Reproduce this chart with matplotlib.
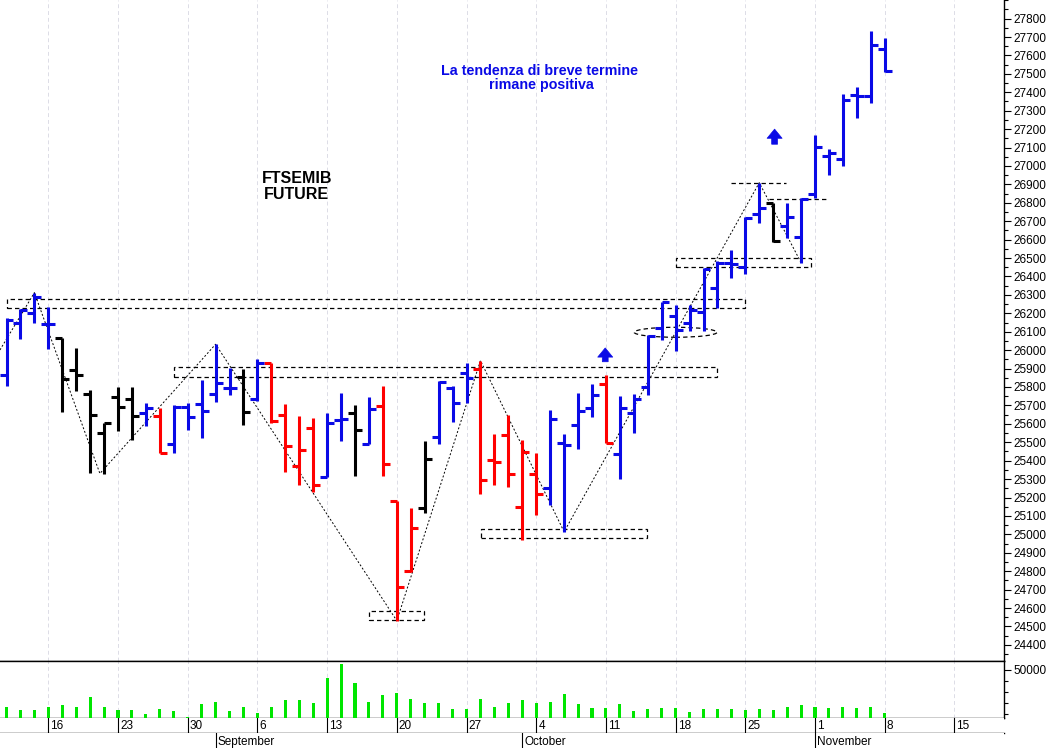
import matplotlib
matplotlib.use('Agg')
import matplotlib.pyplot as plt
from matplotlib.patches import Rectangle, Ellipse
from matplotlib.ticker import MultipleLocator, FixedLocator
import numpy as np

plt.rcParams['font.family'] = ['Liberation Sans', 'DejaVu Sans']

# ---------------- data ----------------
first_day = '2021-08-11'
dates = ['2021-08-11', '2021-08-12', '2021-08-13', '2021-08-16', '2021-08-17', '2021-08-18', '2021-08-19',
         '2021-08-20', '2021-08-23', '2021-08-24', '2021-08-25', '2021-08-26', '2021-08-27', '2021-08-30',
         '2021-08-31', '2021-09-01', '2021-09-02', '2021-09-03', '2021-09-06', '2021-09-07', '2021-09-08',
         '2021-09-09', '2021-09-10', '2021-09-13', '2021-09-14', '2021-09-15', '2021-09-16', '2021-09-17',
         '2021-09-20', '2021-09-21', '2021-09-22', '2021-09-23', '2021-09-24', '2021-09-27', '2021-09-28',
         '2021-09-29', '2021-09-30', '2021-10-01', '2021-10-04', '2021-10-05', '2021-10-06', '2021-10-07',
         '2021-10-08', '2021-10-11', '2021-10-12', '2021-10-13', '2021-10-14', '2021-10-15', '2021-10-18',
         '2021-10-19', '2021-10-20', '2021-10-21', '2021-10-22', '2021-10-25', '2021-10-26', '2021-10-27',
         '2021-10-28', '2021-10-29', '2021-11-01', '2021-11-02', '2021-11-03', '2021-11-04', '2021-11-05',
         '2021-11-08']
opens = [25865, 26149, 26200, 26142, 26064, 25892, 25762, 25552, 25744, 25733, 25657, 25643, 25490, 25690,
         25706, 25762, 25793, 25856, 25733, 25929, 25648, 25371, 25576, 25310, 25621, 25657, 25489, 25697,
         25183, 24803, 25141, 25530, 25793, 25874, 25896, 25404, 25539, 25150, 25326, 25253, 25494, 25594,
         25684, 25816, 25435, 25657, 25802, 26119, 26185, 26149, 26209, 26336, 26475, 26453, 26739, 26801,
         26674, 26613, 26848, 27054, 27036, 27385, 27380, 27633]
highs = [26175, 26222, 26312, 26236, 26064, 26010, 25784, 25603, 25802, 25802, 25715, 25684, 25702, 25715,
         25838, 26032, 25901, 25896, 25950, 25932, 25708, 25643, 25630, 25657, 25769, 25702, 25747, 25805,
         25183, 25141, 25508, 25834, 25805, 25932, 25943, 25545, 25648, 25512, 25440, 25675, 25545, 25769,
         25816, 25865, 25751, 25762, 26082, 26263, 26245, 26245, 26444, 26486, 26544, 26721, 26909, 26801,
         26797, 26824, 27168, 27090, 27391, 27430, 27734, 27693]
lows = [25806, 26059, 26149, 26005, 25666, 25780, 25331, 25328, 25563, 25512, 25588, 25443, 25443, 25567,
        25521, 25720, 25757, 25594, 25726, 25603, 25340, 25268, 25232, 25310, 25508, 25317, 25489, 25317,
        24531, 24797, 25114, 25489, 25612, 25711, 25219, 25268, 25255, 24969, 25105, 25159, 25014, 25462,
        25639, 25494, 25299, 25552, 25756, 26055, 25997, 26106, 26106, 26227, 26390, 26413, 26692, 26589,
        26607, 26475, 26824, 26951, 27000, 27259, 27340, 27512]
closes = [26164, 26218, 26287, 26142, 25842, 25865, 25648, 25603, 25690, 25642, 25684, 25443, 25693, 25639,
          25671, 25823, 25793, 25666, 25929, 25615, 25480, 25458, 25268, 25603, 25625, 25566, 25679, 25382,
          24712, 25033, 25409, 25829, 25711, 25847, 25295, 25394, 25328, 25449, 25219, 25625, 25485, 25670,
          25756, 25498, 25684, 25733, 26077, 26260, 26109, 26218, 26439, 26475, 26468, 26716, 26770, 26594,
          26725, 26819, 27105, 27072, 27358, 27380, 27657, 27517]
bar_codes = ['b', 'b', 'b', 'b', 'k', 'k', 'k', 'k', 'k', 'k', 'b', 'r', 'b', 'b', 'b', 'b', 'b', 'k', 'b', 'r',
             'r', 'r', 'r', 'b', 'b', 'k', 'b', 'r', 'r', 'r', 'k', 'b', 'b', 'b', 'r', 'r', 'r', 'r', 'r', 'b',
             'b', 'b', 'b', 'r', 'b', 'b', 'b', 'b', 'b', 'b', 'b', 'b', 'b', 'b', 'b', 'k', 'b', 'b', 'b', 'b',
             'b', 'b', 'b', 'b']
volumes = [16400, 13700, 14000, 16400, 18200, 16400, 25700, 16400, 14000, 13700, 10400, 14600, 13100, 7400,
           19100, 21200, 13100, 16400, 11300, 16400, 23000, 23000, 20000, 42500, 55400, 38300, 21400, 27500,
           29500, 23900, 20000, 20000, 14600, 14600, 23900, 16900, 20500, 23000, 20000, 21400, 28400, 19100,
           15500, 16000, 19100, 13300, 15100, 16000, 16000, 12400, 14600, 14600, 14600, 14000, 14600, 14000,
           16400, 18500, 16900, 15800, 16400, 15800, 16900, 11000]

week_ticks = ['2021-08-16', '2021-08-23', '2021-08-30', '2021-09-06', '2021-09-13', '2021-09-20', '2021-09-27',
              '2021-10-04', '2021-10-11', '2021-10-18', '2021-10-25', '2021-11-01', '2021-11-08', '2021-11-15']
week_labels = ['16', '23', '30', '6', '13', '20', '27', '4', '11', '18', '25', '1', '8', '15']
month_starts = ['2021-09-01', '2021-10-01', '2021-11-01']
month_labels = ['September', 'October', 'November']
price_ticks = list(range(24400, 27801, 100))

# annotation drawings (trading-day index, price)
zig_x = [-0.47, 2, 6.7, 15, 28, 34, 40, 54, 57]
zig_y = [26001, 26312, 25330, 26032, 24531, 25943, 25014, 26909, 26475]
boxes = [(0.06, 53.0, 26227, 26278), (12.03, 50.98, 25854, 25911), (26.0, 29.95, 24535, 24585),
         (34.06, 45.94, 24979, 25029), (48.04, 57.7, 26453, 26499)]
hlevels = [(51.98, 55.93, 26906), (54.7, 58.8, 26819)]
ellipse_c = (48.0, 26097)
arrows = [(42.95, 25937, 26012), (55.1, 27118, 27200)]

title_text = 'FTSEMIB\nFUTURE'
comment_text = 'La tendenza di breve termine\n rimane positiva'

# ---------------- styling ----------------
W, H = 1052, 748
colmap = {'b': '#0a0ae6', 'r': '#ff0000', 'k': '#000000'}
BLUE = '#0a0ae6'
GREEN = '#00e600'
GRID = '#dcdce6'

x = np.array([np.busday_count(first_day, d) for d in dates], dtype=float)
wx = np.array([np.busday_count(first_day, d) for d in week_ticks], dtype=float)
mx = np.array([np.busday_count(first_day, d) for d in month_starts], dtype=float)

px_day = 13.94
xmin = -6.5 / px_day
xmax = (1004 - 6.5) / px_day

fig = plt.figure(figsize=(W / 100, H / 100), dpi=100)

def fr(top_px, bot_px):
    return [0, (H - bot_px) / H, 1004 / W, (bot_px - top_px) / H]

ax = fig.add_axes(fr(0, 660.7))
axv = fig.add_axes(fr(660.7, 717.7))
axd = fig.add_axes(fr(717.7, 733.3))
axm = fig.add_axes(fr(733.3, 748))

for a in (ax, axv, axd, axm):
    a.set_xlim(xmin, xmax)
    a.set_facecolor('white')
    a.spines['left'].set_visible(False)

# ---- main price pane ----
ax.set_ylim(24314, 27901)
for wv in wx:
    ax.axvline(wv, color=GRID, lw=0.7, dashes=(4, 3), zorder=0)
    axv.axvline(wv, color=GRID, lw=0.7, dashes=(4, 3), zorder=0)

cols = [colmap[c] for c in bar_codes]
lw_bar = 2.2
tk = 0.5
ax.vlines(x, lows, highs, colors=cols, lw=lw_bar, zorder=3)
ax.hlines(opens, x - tk, x, colors=cols, lw=lw_bar, zorder=3)
ax.hlines(closes, x, x + tk, colors=cols, lw=lw_bar, zorder=3)

ax.plot(zig_x, zig_y, color='black', lw=0.7, dashes=(2, 2), zorder=2)
for (x0, x1, y0, y1) in boxes:
    ax.add_patch(Rectangle((x0, y0), x1 - x0, y1 - y0, fill=False, ec='black', lw=0.9,
                           linestyle=(0, (3.5, 2.5)), zorder=2))
for (x0, x1, yv) in hlevels:
    ax.plot([x0, x1], [yv, yv], color='black', lw=0.9, linestyle=(0, (3.5, 2.5)), zorder=2)
ax.add_patch(Ellipse(ellipse_c, 5.95, 54, fill=False, ec='black', lw=0.9,
                     linestyle=(0, (3.5, 2.5)), zorder=2))
for (ax_x, yb, yt) in arrows:
    ax.annotate('', xy=(ax_x, yt), xytext=(ax_x, yb),
                arrowprops=dict(arrowstyle='simple,head_length=0.55,head_width=0.9,tail_width=0.35',
                                fc=BLUE, ec=BLUE, lw=0.5, mutation_scale=12, shrinkA=0, shrinkB=0),
                zorder=4)

ax.text(20.83, 26890, title_text, ha='center', va='center', fontsize=11.5, fontweight='bold',
        color='black', linespacing=1.05)
ax.text(38.25, 27480, comment_text, ha='center', va='center', fontsize=10.3, fontweight='bold',
        color=BLUE, linespacing=1.0)

ax.yaxis.tick_right()
ax.yaxis.set_major_locator(FixedLocator(price_ticks))
ax.yaxis.set_minor_locator(MultipleLocator(50))
ax.tick_params(axis='y', which='major', direction='out', length=5, width=0.8, labelsize=8.5, pad=2)
ax.tick_params(axis='y', which='minor', direction='out', length=3, width=0.8)
ax.set_xticks([])
ax.spines['top'].set_visible(False)
ax.spines['right'].set_linewidth(1.0)
ax.spines['bottom'].set_linewidth(1.0)

# ---- volume pane ----
axv.set_ylim(7027, 58378)
axv.bar(x, volumes, width=0.22, color=GREEN, zorder=3)
axv.yaxis.tick_right()
axv.yaxis.set_major_locator(FixedLocator([50000]))
axv.yaxis.set_minor_locator(FixedLocator([10000, 20000, 30000, 40000]))
axv.tick_params(axis='y', which='major', direction='out', length=5, width=0.8, labelsize=8.5, pad=2)
axv.tick_params(axis='y', which='minor', direction='out', length=3, width=0.8)
axv.set_xticks([])
for s in ('top', 'right', 'bottom'):
    axv.spines[s].set_linewidth(1.0)

# ---- day band ----
axd.set_ylim(0, 1)
axd.set_xticks([]); axd.set_yticks([])
axd.spines['right'].set_visible(False)
axd.spines['top'].set_visible(False)
axd.spines['bottom'].set_linewidth(1.0)
for wv, lab in zip(wx, week_labels):
    axd.axvline(wv, color='black', lw=0.8)
    axd.text(wv + 0.15, 0.45, lab, ha='left', va='center', fontsize=8.5, color='black')

# ---- month row ----
axm.set_ylim(0, 1)
axm.set_xticks([]); axm.set_yticks([])
for s in ('right', 'top', 'bottom'):
    axm.spines[s].set_visible(False)
for mv, lab in zip(mx, month_labels):
    axm.axvline(mv, color='black', lw=0.8)
    axm.text(mv + 0.15, 0.4, lab, ha='left', va='center', fontsize=8.5, color='black')

fig.savefig('out.png', dpi=100, facecolor='white')
